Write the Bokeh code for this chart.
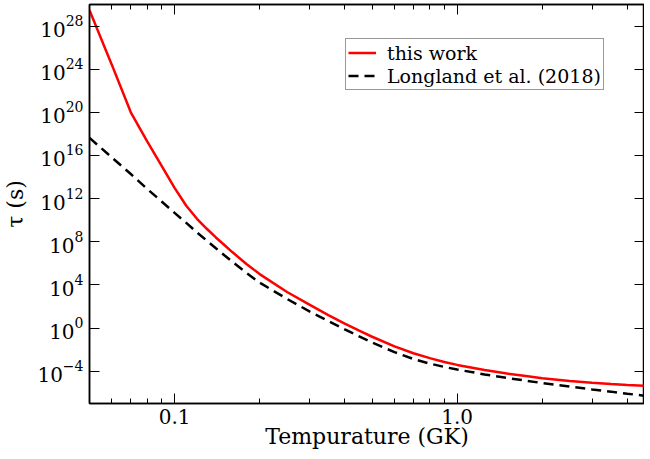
from bokeh.plotting import figure
from bokeh.models import (Range1d, LogAxis, FixedTicker, PrintfTickFormatter,
                          LogTickFormatter, CustomJSTickFormatter, Legend,
                          LegendItem)
from bokeh.embed import file_html
from bokeh.resources import INLINE

# ---- data ----
temperature = [0.05, 0.06, 0.07, 0.08, 0.09, 0.1, 0.11, 0.12, 0.13, 0.14, 0.15,
               0.16, 0.18, 0.2, 0.25, 0.3, 0.35, 0.4, 0.45, 0.5, 0.6, 0.7, 0.8,
               0.9, 1.0, 1.25, 1.5, 1.75, 2.0, 2.5, 3.0, 3.5, 4.0, 5.0]
tau_this_work = [2.9e29, 2.5e24, 1.0e20, 2.0e17, 1.1e15, 1.0e13, 2.2e11, 1.35e10,
                 1.6e9, 2.5e8, 5.0e7, 1.1e7, 8.3e5, 1.0e5, 2.2e3, 1.45e2, 16.0,
                 2.6, 0.56, 0.155, 2.0e-2, 4.6e-3, 1.6e-3, 7.1e-4, 3.8e-4, 1.3e-4,
                 6.0e-5, 3.5e-5, 2.2e-5, 1.23e-5, 8.3e-6, 6.3e-6, 5.1e-6, 3.9e-6]
tau_longland = [4.3e17, 6.5e15, 1.9e14, 7.9e12, 5.4e11, 4.8e10, 5.6e9, 7.4e8,
                1.26e8, 2.5e7, 5.6e6, 1.4e6, 1.26e5, 1.6e4, 5.0e2, 35.0, 4.5,
                0.76, 0.166, 4.5e-2, 5.8e-3, 1.35e-3, 5.0e-4, 2.45e-4, 1.4e-4,
                5.0e-5, 2.35e-5, 1.3e-5, 7.9e-6, 3.7e-6, 2.0e-6, 1.26e-6, 8.1e-7,
                4.0e-7]
series_labels = ["this work", "Longland et al. (2018)"]
x_major_ticks = [0.1, 1.0]
x_minor_ticks = [0.06, 0.07, 0.08, 0.09, 0.2, 0.3, 0.4, 0.5, 0.6, 0.7, 0.8, 0.9,
                 2.0, 3.0, 4.0]
y_major_ticks = [1e-4, 1e0, 1e4, 1e8, 1e12, 1e16, 1e20, 1e24, 1e28]
x_label = "Tempurature (GK)"
y_label = "τ (s)"

FONT = "DejaVu Serif"

p = figure(width=644, height=451, x_axis_type="log", y_axis_type="log",
           x_range=Range1d(0.05, 4.6), y_range=Range1d(1e-7, 1e30),
           output_backend="svg", toolbar_location=None,
           min_border_left=87, min_border_right=0, min_border_top=4,
           min_border_bottom=0)
p.grid.visible = False
p.outline_line_color = "black"
p.outline_line_width = 1.5
p.background_fill_color = "white"
p.border_fill_color = "white"

r_this = p.line(temperature, tau_this_work, line_color="#ff0000", line_width=2.5)
r_long = p.line(temperature, tau_longland, line_color="black", line_width=2.5,
                line_dash="10 6")


def style_axis(ax, show_labels):
    ax.axis_line_color = "black"
    ax.axis_line_width = 1.5
    ax.major_tick_line_color = "black"
    ax.minor_tick_line_color = "black"
    ax.major_tick_line_width = 1
    ax.minor_tick_line_width = 1
    ax.major_tick_in = 10
    ax.major_tick_out = 0
    ax.minor_tick_in = 5
    ax.minor_tick_out = 0
    if show_labels:
        ax.major_label_text_font = FONT
        ax.major_label_text_font_size = "20px"
        ax.major_label_text_color = "black"
        ax.axis_label_text_font = FONT
        ax.axis_label_text_font_size = "22px"
        ax.axis_label_text_font_style = "normal"
        ax.axis_label_text_color = "black"
    else:
        ax.formatter = CustomJSTickFormatter(code="return ''")
        ax.major_label_text_font_size = "1px"
        ax.major_label_standoff = 0


xticker = FixedTicker(ticks=x_major_ticks, minor_ticks=x_minor_ticks)
yticker = FixedTicker(ticks=y_major_ticks, minor_ticks=[])

xa = p.xaxis[0]
xa.ticker = xticker
xa.formatter = PrintfTickFormatter(format="%.1f")
xa.axis_label = x_label
style_axis(xa, True)
xa.major_label_standoff = 5
xa.axis_label_standoff = -3

ya = p.yaxis[0]
ya.ticker = yticker
ya.formatter = LogTickFormatter()
ya.axis_label = y_label
style_axis(ya, True)
ya.major_label_standoff = 6
ya.axis_label_standoff = 6

top = LogAxis(ticker=FixedTicker(ticks=x_major_ticks, minor_ticks=x_minor_ticks))
style_axis(top, False)
p.add_layout(top, "above")
right = LogAxis(ticker=FixedTicker(ticks=y_major_ticks, minor_ticks=[]))
style_axis(right, False)
p.add_layout(right, "right")

legend = Legend(items=[LegendItem(label=series_labels[0], renderers=[r_this]),
                       LegendItem(label=series_labels[1], renderers=[r_long])],
                location=(256, 313))
legend.label_text_font = FONT
legend.label_text_font_size = "19px"
legend.label_text_color = "black"
legend.label_height = 23
legend.glyph_height = 23
legend.glyph_width = 28
legend.label_standoff = 11
legend.spacing = 0
legend.padding = 2
legend.margin = 0
legend.border_line_color = "#333333"
legend.border_line_width = 1
legend.background_fill_alpha = 1
p.add_layout(legend)

open("out.html", "w").write(file_html(p, INLINE))
